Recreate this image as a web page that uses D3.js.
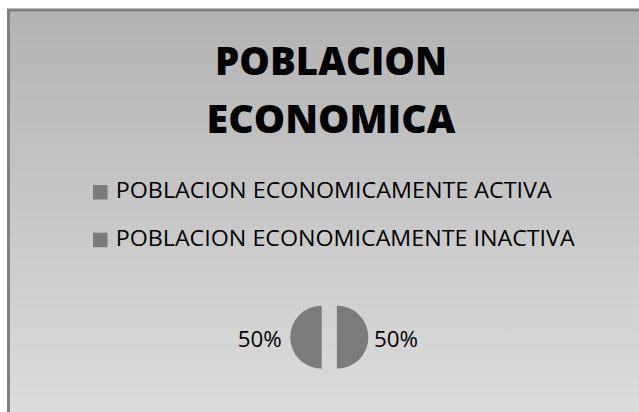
<!DOCTYPE html>
<html>
<head>
<meta charset="utf-8">
<script src="https://cdn.jsdelivr.net/npm/d3@7"></script>
<style>
  html, body { margin: 0; padding: 0; background: #fff; overflow: hidden; }
</style>
</head>
<body>
<script>
// data
var titleLines = ["POBLACION", "ECONOMICA"];
var categories = ["POBLACION ECONOMICAMENTE ACTIVA", "POBLACION ECONOMICAMENTE INACTIVA"];
var values = [50, 50];

var width = 639, height = 412;
var font = "'Open Sans', 'DejaVu Sans', sans-serif";
var gray = "#7b7b7b";

var svg = d3.select("body").append("svg")
    .attr("width", width)
    .attr("height", height);

var grad = svg.append("defs").append("linearGradient")
    .attr("id", "bg")
    .attr("x1", 0).attr("y1", 0).attr("x2", 0).attr("y2", 1);
grad.append("stop").attr("offset", "0%").attr("stop-color", "#b3b3b3");
grad.append("stop").attr("offset", "100%").attr("stop-color", "#e6e6e6");

// chart frame (runs off the right and bottom edges)
svg.append("rect")
    .attr("x", 8.5)
    .attr("y", 10)
    .attr("width", 700)
    .attr("height", 500)
    .attr("fill", "url(#bg)")
    .attr("stroke", "#808080")
    .attr("stroke-width", 3);

// title
var titleLen = [232, 249];
svg.selectAll("text.title")
    .data(titleLines).enter()
    .append("text")
    .attr("class", "title")
    .attr("x", 331)
    .attr("y", function(d, i){ return 74.8 + 58.5 * i; })
    .attr("text-anchor", "middle")
    .attr("font-family", font)
    .attr("font-weight", 800)
    .attr("font-size", "39px")
    .attr("textLength", function(d, i){ return titleLen[i]; })
    .attr("lengthAdjust", "spacingAndGlyphs")
    .attr("fill", "#000")
    .text(function(d){ return d; });

// legend
var legendLen = [436, 459];
var legend = svg.selectAll("g.legend")
    .data(categories).enter()
    .append("g")
    .attr("class", "legend")
    .attr("transform", function(d, i){ return "translate(93," + (185 + 47.7 * i) + ")"; });

legend.append("rect")
    .attr("width", 14.5)
    .attr("height", 14.5)
    .attr("fill", gray);

legend.append("text")
    .attr("x", 22.7)
    .attr("y", 13.3)
    .attr("font-family", font)
    .attr("font-size", "22.6px")
    .attr("textLength", function(d, i){ return legendLen[i]; })
    .attr("lengthAdjust", "spacingAndGlyphs")
    .attr("fill", "#000")
    .text(function(d){ return d; });

// pie
var cx = 329.3, cy = 337.2, r = 31.5, explode = 7.6;
var pie = d3.pie().sort(null);
var arc = d3.arc().innerRadius(0).outerRadius(r);
var total = d3.sum(values);
var arcs = pie(values);

var pieG = svg.append("g").attr("transform", "translate(" + cx + "," + cy + ")");

pieG.selectAll("path")
    .data(arcs).enter()
    .append("path")
    .attr("d", arc)
    .attr("fill", gray)
    .attr("transform", function(d){
        var a = (d.startAngle + d.endAngle) / 2;
        return "translate(" + (Math.sin(a) * explode) + "," + (-Math.cos(a) * explode) + ")";
    });

// percent labels outside each slice
pieG.selectAll("text.pct")
    .data(arcs).enter()
    .append("text")
    .attr("class", "pct")
    .attr("x", function(d){
        var a = (d.startAngle + d.endAngle) / 2;
        return Math.sin(a) > 0 ? 44.7 : -47.6;
    })
    .attr("y", 9.5)
    .attr("text-anchor", function(d){
        var a = (d.startAngle + d.endAngle) / 2;
        return Math.sin(a) > 0 ? "start" : "end";
    })
    .attr("font-family", font)
    .attr("font-size", "22.6px")
    .attr("textLength", 44)
    .attr("lengthAdjust", "spacingAndGlyphs")
    .attr("fill", "#000")
    .text(function(d){ return Math.round(d.data / total * 100) + "%"; });
</script>
</body>
</html>
